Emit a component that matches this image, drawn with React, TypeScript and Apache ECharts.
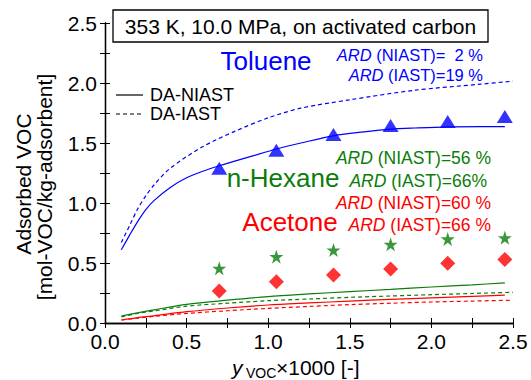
import React, { useEffect, useRef } from "react";
import * as echarts from "echarts";

const xExp = [0.7, 1.05, 1.4, 1.75, 2.1, 2.45];
const tolueneExp = [1.29, 1.44, 1.57, 1.645, 1.68, 1.72];
const hexaneExp = [0.456, 0.553, 0.608, 0.656, 0.7, 0.71];
const acetoneExp = [0.267, 0.344, 0.4, 0.45, 0.497, 0.53];

const xTolNiast = [0.1, 0.15, 0.2, 0.25, 0.3, 0.4, 0.5, 0.6, 0.7, 0.9, 1.05, 1.2, 1.4, 1.6, 1.75, 1.9, 2.1, 2.3, 2.45];
const tolNiast = [0.61, 0.73, 0.845, 0.945, 1.02, 1.13, 1.21, 1.265, 1.31, 1.39, 1.45, 1.5, 1.56, 1.595, 1.615, 1.625, 1.635, 1.637, 1.637];
const xTolIast = [0.1, 0.15, 0.2, 0.25, 0.3, 0.4, 0.6, 0.8, 1.0, 1.2, 1.5, 1.9, 2.3, 2.5];
const tolIast = [0.67, 0.81, 0.95, 1.06, 1.15, 1.29, 1.47, 1.6, 1.71, 1.79, 1.86, 1.94, 1.99, 2.015];

const xNiast = [0.1, 0.2, 0.3, 0.5, 0.75, 1.0, 1.25, 1.5, 1.75, 2.0, 2.25, 2.45];
const xIast = [0.1, 0.2, 0.3, 0.5, 0.75, 1.0, 1.25, 1.5, 1.75, 2.0, 2.25, 2.5];
const hexNiast = [0.058, 0.085, 0.11, 0.155, 0.19, 0.22, 0.242, 0.262, 0.28, 0.3, 0.318, 0.335];
const hexIast = [0.05, 0.08, 0.1, 0.14, 0.165, 0.186, 0.2, 0.214, 0.225, 0.236, 0.246, 0.256];
const aceNiast = [0.025, 0.045, 0.06, 0.094, 0.125, 0.15, 0.167, 0.183, 0.197, 0.21, 0.222, 0.233];
const aceIast = [0.025, 0.04, 0.055, 0.08, 0.102, 0.122, 0.138, 0.153, 0.165, 0.175, 0.183, 0.19];

const xTicks = { min: 0, max: 2.5, interval: 0.5 };
const yTicks = { min: 0, max: 2.5, interval: 0.5 };

const BLUE = "#0000ff";
const GREEN = "#0a7d0a";
const RED = "#ff0000";
const FONT = "Liberation Sans, Arial, sans-serif";
const STAR =
  "path://M50,0 L61.8,35.1 L98.9,35.1 L69.1,56.7 L80.3,91.9 L50,70 L19.7,91.9 L30.9,56.7 L1.1,35.1 L38.2,35.1 Z";

const zip = (xs: number[], ys: number[]) => xs.map((x, i) => [x, ys[i]]);

export default function App() {
  const ref = useRef<HTMLDivElement>(null);
  useEffect(() => {
    if (!ref.current) return;
    const chart = echarts.init(ref.current, null, { renderer: "svg" });
    const axisCommon = {
      type: "value" as const,
      axisLine: { show: true, lineStyle: { color: "#000", width: 1.3 } },
      axisTick: { show: true, inside: true, length: 5, lineStyle: { color: "#000", width: 1 } },
      minorTick: { show: true, splitNumber: 2, length: 5, lineStyle: { color: "#000", width: 1 } },
      splitLine: { show: false },
      minorSplitLine: { show: false },
    };
    const lineSeries = (name: string, xs: number[], ys: number[], color: string, dashed: boolean) => ({
      name,
      type: "line",
      data: zip(xs, ys),
      smooth: 0.3,
      showSymbol: false,
      symbol: "none",
      lineStyle: { color, width: 1.2, type: dashed ? [4, 3] : "solid" },
      z: 2,
    });
    const scatterSeries = (name: string, ys: number[], color: string, symbol: string, size: any) => ({
      name,
      type: "scatter",
      data: zip(xExp, ys),
      symbol,
      symbolSize: size,
      itemStyle: { color },
      z: 3,
    });
    const ardText = (y: number, right: number, label: string, color: string, fs: number) => ({
      type: "text",
      x: right,
      y,
      z: 100,
      style: {
        text: "{i|ARD}{n|" + label + "}",
        align: "right",
        verticalAlign: "middle",
        fill: color,
        font: `${fs}px ${FONT}`,
        rich: {
          i: { fontStyle: "italic", fontSize: fs, fontFamily: FONT, fill: color },
          n: { fontSize: fs, fontFamily: FONT, fill: color },
        },
      },
    });
    const bigText = (x: number, y: number, text: string, color: string) => ({
      type: "text",
      x,
      y,
      z: 100,
      style: { text, align: "center", verticalAlign: "middle", fill: color, font: `26px ${FONT}` },
    });
    chart.setOption({
      animation: false,
      backgroundColor: "#fff",
      grid: { left: 105, right: 18, top: 23, bottom: 57, containLabel: false },
      xAxis: [
        {
          ...axisCommon,
          ...xTicks,
          position: "bottom",
          axisLabel: { color: "#000", fontSize: 21, fontFamily: FONT, margin: 8, formatter: (v: number) => v.toFixed(1) },
        },
        {
          ...axisCommon,
          ...xTicks,
          position: "top",
          axisLabel: { show: false },
        },
      ],
      yAxis: [
        {
          ...axisCommon,
          ...yTicks,
          position: "left",
          axisLabel: { color: "#000", fontSize: 21, fontFamily: FONT, margin: 8, formatter: (v: number) => v.toFixed(1) },
        },
        {
          ...axisCommon,
          ...yTicks,
          position: "right",
          axisLabel: { show: false },
        },
      ],
      series: [
        lineSeries("Toluene DA-NIAST", xTolNiast, tolNiast, BLUE, false),
        lineSeries("Toluene DA-IAST", xTolIast, tolIast, BLUE, true),
        lineSeries("n-Hexane DA-NIAST", xNiast, hexNiast, GREEN, false),
        lineSeries("n-Hexane DA-IAST", xIast, hexIast, GREEN, true),
        lineSeries("Acetone DA-NIAST", xNiast, aceNiast, RED, false),
        lineSeries("Acetone DA-IAST", xIast, aceIast, RED, true),
        scatterSeries("Toluene", tolueneExp, BLUE, "triangle", [16, 13]),
        scatterSeries("n-Hexane", hexaneExp, GREEN, STAR, 14),
        scatterSeries("Acetone", acetoneExp, RED, "diamond", 15),
      ],
      graphic: [
        {
          type: "rect",
          z: 100,
          shape: { x: 113, y: 10, width: 375, height: 32 },
          style: { fill: "#fff", stroke: "#000", lineWidth: 1.3 },
        },
        {
          type: "text",
          x: 300.5,
          y: 26,
          z: 101,
          style: {
            text: "353 K, 10.0 MPa, on activated carbon",
            align: "center",
            verticalAlign: "middle",
            fill: "#000",
            font: `21px ${FONT}`,
          },
        },
        bigText(266, 61, "Toluene", BLUE),
        bigText(283, 178, "n-Hexane", GREEN),
        bigText(290, 222, "Acetone", RED),
        ardText(55, 483, " (NIAST)=  2 %", BLUE, 16.5),
        ardText(75, 483, " (IAST)=19 %", BLUE, 16.5),
        ardText(158, 491, " (NIAST)=56 %", GREEN, 17.5),
        ardText(181, 487, " (IAST)=66%", GREEN, 17.5),
        ardText(203, 491, " (NIAST)=60 %", RED, 17.5),
        ardText(225, 491, " (IAST)=66 %", RED, 17.5),
        {
          type: "line",
          z: 100,
          shape: { x1: 116, y1: 95, x2: 143, y2: 95 },
          style: { stroke: "#000", lineWidth: 1.2 },
        },
        {
          type: "line",
          z: 100,
          shape: { x1: 116, y1: 114, x2: 143, y2: 114 },
          style: { stroke: "#000", lineWidth: 1.2, lineDash: [4, 3] },
        },
        {
          type: "text",
          x: 150,
          y: 95,
          z: 100,
          style: { text: "DA-NIAST", verticalAlign: "middle", fill: "#000", font: `18px ${FONT}` },
        },
        {
          type: "text",
          x: 150,
          y: 114,
          z: 100,
          style: { text: "DA-IAST", verticalAlign: "middle", fill: "#000", font: `18px ${FONT}` },
        },
        {
          type: "text",
          x: 23,
          y: 184,
          rotation: Math.PI / 2,
          z: 100,
          style: { text: "Adsorbed VOC", align: "center", verticalAlign: "middle", fill: "#000", font: `21px ${FONT}` },
        },
        {
          type: "text",
          x: 44,
          y: 187,
          rotation: Math.PI / 2,
          z: 100,
          style: {
            text: "[mol-VOC/kg-adsorbent]",
            align: "center",
            verticalAlign: "middle",
            fill: "#000",
            font: `21px ${FONT}`,
          },
        },
        {
          type: "text",
          x: 232,
          y: 367,
          z: 100,
          style: { text: "y", verticalAlign: "middle", fill: "#000", font: `italic 21px ${FONT}` },
        },
        {
          type: "text",
          x: 246,
          y: 373,
          z: 100,
          style: { text: "VOC", verticalAlign: "middle", fill: "#000", font: `14px ${FONT}` },
        },
        {
          type: "text",
          x: 276,
          y: 367,
          z: 100,
          style: { text: "×1000 [-]", verticalAlign: "middle", fill: "#000", font: `21px ${FONT}` },
        },
      ],
    });
    return () => chart.dispose();
  }, []);
  return (
    <div
      ref={ref}
      style={{ position: "fixed", left: 0, top: 0, width: 531, height: 380, background: "#fff" }}
    />
  );
}
